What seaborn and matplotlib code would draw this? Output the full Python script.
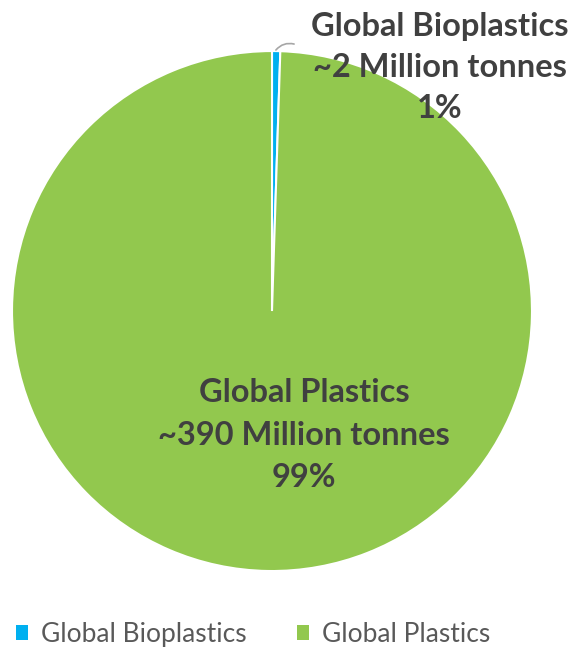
import matplotlib
matplotlib.use("Agg")
import matplotlib.pyplot as plt
from matplotlib.patches import Patch
import seaborn as sns

# data
categories = ["Global Bioplastics", "Global Plastics"]
tonnes = [2, 390]
amount_labels = ["~2 Million tonnes", "~390 Million tonnes"]
pct_labels = ["1%", "99%"]
colors = ["#00B0F0", "#92C84E"]

sns.set_theme(style="white")
plt.rcParams['font.family'] = ['Lato', 'DejaVu Sans']

fig = plt.figure(figsize=(5.71, 6.52), dpi=100)
ax = fig.add_axes([0.021, 0.1242, 0.9107, 0.7975])

wedges, _ = ax.pie(tonnes, colors=colors, startangle=90, counterclock=False,
                   radius=1, wedgeprops=dict(edgecolor="white", linewidth=1.5))
ax.set_xlim(-1, 1)
ax.set_ylim(-1, 1)
ax.set_aspect("equal")
ax.axis("off")

txt_color = "#404040"
# big slice label inside
ax.text(0.123, -0.477, "\n".join([categories[1], amount_labels[1], pct_labels[1]]),
        ha="center", va="center", fontsize=23.5, fontweight="bold", color=txt_color,
        linespacing=1.58)

# small slice label outside
ax.text(0.646, 0.938, "\n".join([categories[0], amount_labels[0], pct_labels[0]]),
        ha="center", va="center", fontsize=23.5, fontweight="bold", color=txt_color,
        linespacing=1.5, clip_on=False)
# leader line
ax.annotate("", xy=(0.015, 1.004), xytext=(0.085, 1.027), annotation_clip=False,
            arrowprops=dict(arrowstyle="-", color="#A6A6A6", lw=1.2,
                            shrinkA=0, shrinkB=0, connectionstyle="arc3,rad=0.3"))

handles = [Patch(facecolor=c, edgecolor="none") for c in colors]
fig.legend(handles, categories, loc="center", bbox_to_anchor=(0.443, 0.027), ncol=2,
           frameon=False, fontsize=19, labelcolor="#595959", handlelength=0.45,
           handleheight=0.45, handletextpad=0.5, columnspacing=1.9)

fig.savefig("out.png", dpi=100)
